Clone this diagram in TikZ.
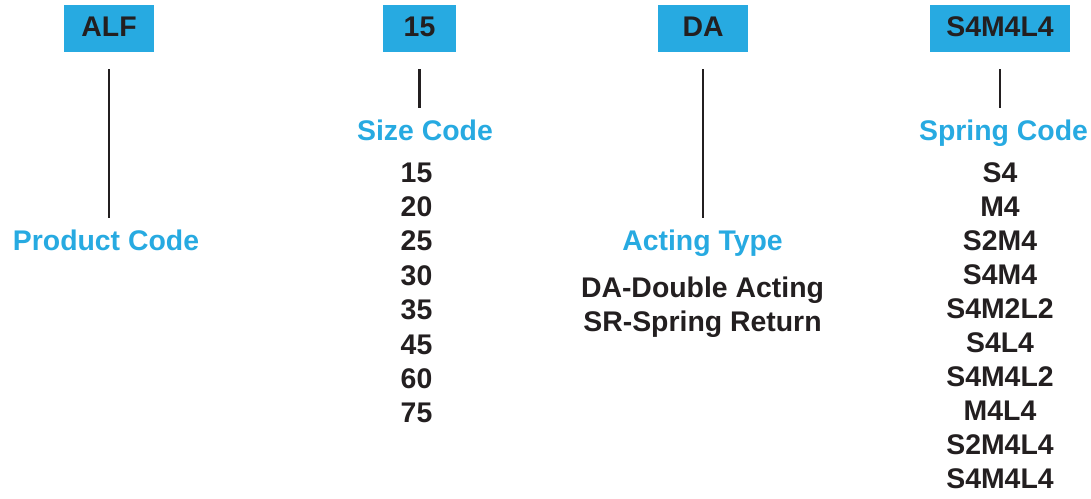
\documentclass[tikz,border=0pt]{standalone}
\usepackage{fontspec}
\setmainfont{Liberation Sans}
\definecolor{codeblue}{RGB}{39,170,225}
\definecolor{ink}{RGB}{35,31,32}
\newcommand{\codefont}{\fontsize{28.4}{34}\selectfont\bfseries}
\begin{document}
\begin{tikzpicture}[x=1pt,y=1pt,
  codebox/.style={fill=codeblue, minimum height=47pt, inner sep=0pt,
    text=ink, font=\codefont, text height=20pt, text depth=5pt},
  heading/.style={text=codeblue, font=\codefont, inner sep=0pt, anchor=base,
    text height=20pt, text depth=6pt},
  item/.style={text=ink, font=\codefont, inner sep=0pt, anchor=base},
  lead/.style={draw=ink, line width=2.6pt, shorten <=17pt, shorten >=12pt}]
\useasboundingbox (0,0) rectangle (1091,-498);

% code boxes along the top
\node[codebox, minimum width=90pt]  (alf)    at (109,-28.5)  {ALF};
\node[codebox, minimum width=73pt]  (size)   at (419.5,-28.5) {15};
\node[codebox, minimum width=90pt]  (act)    at (703,-28.5)  {DA};
\node[codebox, minimum width=140pt] (spring) at (1000,-28.5) {S4M4L4};

% headings
\node[heading] (prod)    at (106,-250)   {Product Code};
\node[heading] (sizeh)   at (425,-140)   {Size Code};
\node[heading] (acth)    at (702.5,-250) {Acting Type};
\node[heading] (springh) at (1003.5,-140) {Spring Code};

% leader lines
\draw[lead] (alf.south)    -- (alf.south |- prod.north);
\draw[lead] (size.south)   -- (size.south |- sizeh.north);
\draw[lead] (act.south)    -- (act.south |- acth.north);
\draw[lead] (spring.south) -- (spring.south |- springh.north);

% size options
\foreach \t [count=\i] in {15,20,25,30,35,45,60,75}
  \node[item] (sz\i) at (416.5,{-182-34.4*(\i-1)}) {\t};

% acting type options
\node[item] (da) at (702.5,-297) {DA-Double Acting};
\node[item] (sr) at (702.5,-331) {SR-Spring Return};

% spring options
\foreach \t [count=\i] in {S4,M4,S2M4,S4M4,S4M2L2,S4L4,S4M4L2,M4L4,S2M4L4,S4M4L4}
  \node[item] (sp\i) at (1000,{-182-34*(\i-1)}) {\t};
\end{tikzpicture}
\end{document}
